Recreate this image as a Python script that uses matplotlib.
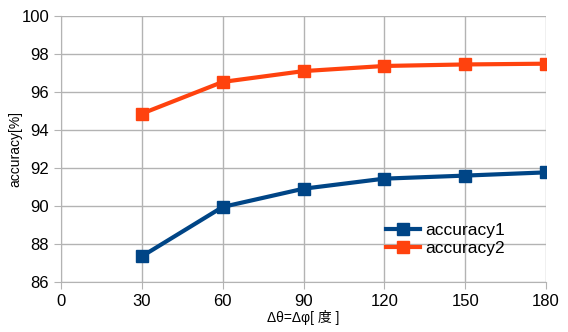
import matplotlib.pyplot as plt

plt.rcParams['font.family'] = ['Liberation Sans', 'Noto Sans CJK JP', 'DejaVu Sans']

# datos
angulos = [30, 60, 90, 120, 150, 180]
accuracy1 = [87.35, 89.95, 90.91, 91.44, 91.60, 91.77]
accuracy2 = [94.86, 96.53, 97.10, 97.37, 97.45, 97.49]

fig = plt.figure(figsize=(5.68, 3.32), dpi=100)
ax = fig.add_axes([61 / 568, 1 - 282 / 332, 485 / 568, 266 / 332])

ax.plot(angulos, accuracy1, color='#004586', lw=3, marker='s', ms=8, label='accuracy1')
ax.plot(angulos, accuracy2, color='#ff420e', lw=3, marker='s', ms=8, label='accuracy2')

ax.set_xlim(0, 180)
ax.set_ylim(86, 100)
ax.set_xticks(range(0, 181, 30))
ax.set_yticks(range(86, 101, 2))
ax.grid(True, color='#b3b3b3', lw=1)
ax.set_axisbelow(True)
for s in ['top', 'right']:
    ax.spines[s].set_visible(False)
for s in ['left', 'bottom']:
    ax.spines[s].set_color('#b3b3b3')
ax.tick_params(colors='#b3b3b3', labelcolor='black', labelsize=12, length=5)

ax.set_xlabel('Δθ=Δφ[ 度 ]', fontsize=10, labelpad=1)
ax.set_ylabel('accuracy[%]', fontsize=10, labelpad=-1)

ax.legend(loc='upper left', bbox_to_anchor=(0.655, 0.247), frameon=False, fontsize=12.5,
          handlelength=2.0, handletextpad=0.3, borderaxespad=0, labelspacing=0.15)

plt.savefig('out.png', dpi=100)
